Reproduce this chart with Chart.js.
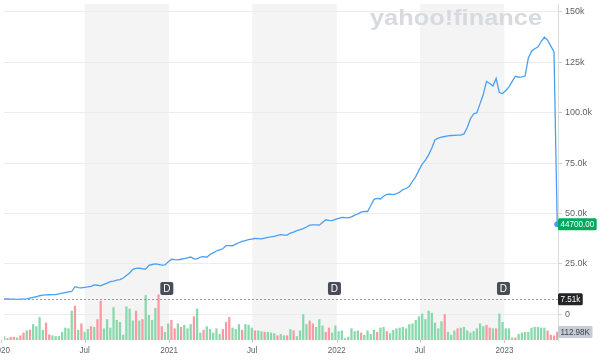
<!DOCTYPE html>
<html>
<head>
<meta charset="utf-8">
<title>Weekly price and volume</title>
<script src="https://cdn.jsdelivr.net/npm/chart.js@4.4.0/dist/chart.umd.min.js"></script>
<style>
  html, body { margin: 0; padding: 0; background: #fff; }
  #wrap { width: 600px; height: 364px; }
</style>
</head>
<body>
<div id="wrap"><canvas id="chart" width="600" height="364"></canvas></div>
<script>
// weekly closes, in thousands
const closes = [
  7.6, 7.6, 7.5, 7.5, 7.4, 7.5, 7.5, 7.6, 8.0, 8.4,
  8.7, 9.2, 9.5, 9.6, 9.7, 9.8, 9.8, 10.1, 10.5, 10.8,
  11.1, 11.3, 13.7, 13.2, 13.1, 13.4, 13.6, 13.9, 14.6, 14.4,
  14.1, 14.8, 15.5, 16.2, 16.5, 16.9, 17.2, 18.0, 19.3, 20.5,
  22.3, 22.8, 22.9, 22.6, 22.4, 24.3, 24.7, 25.0, 24.8, 24.4,
  24.5, 26.0, 27.3, 27.1, 27.0, 27.3, 27.6, 28.0, 28.4, 27.5,
  27.5, 28.4, 28.6, 28.3, 29.7, 30.5, 31.4, 32.0, 32.5, 34.1,
  34.1, 34.0, 34.8, 35.5, 36.2, 36.6, 37.0, 37.3, 37.6, 37.5,
  37.4, 37.8, 38.2, 38.4, 38.7, 39.2, 39.5, 39.3, 39.3, 40.3,
  40.8, 41.5, 42.0, 42.5, 43.3, 44.2, 44.4, 44.4, 44.2, 45.5,
  46.9, 46.6, 46.5, 47.1, 47.6, 48.1, 48.0, 47.8, 48.3, 49.2,
  49.8, 50.7, 51.0, 51.0, 54.0, 57.0, 57.5, 57.2, 58.6, 59.5,
  59.6, 59.4, 59.8, 60.6, 61.9, 62.4, 63.5, 66.0, 68.3, 71.5,
  74.5, 76.5, 79.1, 82.5, 86.6, 87.4, 87.9, 88.2, 88.5, 88.7,
  88.8, 88.9, 88.9, 89.5, 92.5, 97.0, 99.4, 100.0, 104.5, 109.0,
  115.5, 114.5, 113.3, 117.0, 110.0, 109.5, 111.0, 112.8, 115.5, 118.1,
  117.6, 117.8, 118.2, 127.0, 130.5, 131.7, 132.6, 135.3, 137.4, 136.0,
  133.0, 130.3, 44.7
];

// weekly volume, in thousands
const volumes = [
  50, 20, 40, 40, 30, 60, 100, 130, 140, 220,
  190, 320, 140, 240, 75, 60, 50, 50, 110, 170,
  160, 410, 480, 140, 230, 110, 150, 190, 180, 290,
  550, 160, 290, 170, 460, 280, 250, 70, 470, 440,
  270, 410, 270, 290, 630, 350, 280, 450, 640, 190,
  110, 230, 280, 160, 230, 180, 210, 160, 220, 330,
  440, 100, 140, 190, 150, 100, 160, 80, 150, 250,
  320, 170, 150, 220, 140, 220, 210, 170, 130, 130,
  120, 110, 110, 100, 90, 60, 80, 60, 60, 150,
  130, 50, 130, 360, 220, 270, 230, 180, 290, 200,
  110, 170, 100, 200, 120, 130, 20, 40, 160, 120,
  130, 100, 70, 130, 80, 140, 110, 170, 180, 120,
  90, 140, 160, 170, 180, 160, 220, 230, 280, 330,
  370, 290, 410, 380, 240, 160, 260, 360, 110, 70,
  130, 160, 170, 180, 130, 100, 120, 160, 230, 190,
  210, 170, 160, 160, 370, 250, 160, 160, 30, 30,
  80, 100, 110, 110, 170, 180, 180, 170, 170, 130,
  70, 60, 112.98
];

// g = up week, r = down week
const volumeDir = (
  'grrrgrrgrg' + 'gggrrggggg' + 'ggrgrggrgr' + 'rggggggggg' + 'grgrggggrr' +
  'ggrrgrgggr' + 'ggrgggggrr' + 'rgggrgggrg' + 'grgggrggrg' + 'rggggrrggg' +
  'rrgggggggg' + 'grggggrggr' + 'gggggggggg' + 'gggggggrgg' + 'grgggggggg' +
  'rrgrgggggr' + 'gggggggggr' + 'rrr'
).split('');

const firstWeekDay = 7;  // days after 2020-01-01
const priceTicks = [0, 25, 50, 75, 100, 125, 150];
const priceTickLabels = ['0', '25.0k', '50.0k', '75.0k', '100.0k', '125k', '150k'];
const timeTickDays = [0, 182, 366, 547, 731, 912, 1096];
const timeTickLabels = ['2020', 'Jul', '2021', 'Jul', '2022', 'Jul', '2023'];
const dividendDays = [361, 726, 1094];
const prevClose = 7.51;

const FONT = '"Liberation Sans", Arial, sans-serif';
const TEXT = '#5f6368';
const LINE = '#4b9ff2';
const NARROW = 0.85;  // squeeze custom text a little, like the source

const weekDays = closes.map((_, i) => firstWeekDay + 7 * i);
const last = closes.length - 1;

function roundRect(ctx, x, y, w, h, r) {
  ctx.beginPath();
  ctx.moveTo(x + r, y);
  ctx.arcTo(x + w, y, x + w, y + h, r);
  ctx.arcTo(x + w, y + h, x, y + h, r);
  ctx.arcTo(x, y + h, x, y, r);
  ctx.arcTo(x, y, x + w, y, r);
  ctx.closePath();
}

// text squeezed horizontally, anchored at (x, y)
function narrowText(ctx, text, x, y, align) {
  const w = ctx.measureText(text).width * NARROW;
  const left = align === 'center' ? x - w / 2 : x;
  ctx.save();
  ctx.translate(left, y);
  ctx.scale(NARROW, 1);
  ctx.textAlign = 'left';
  ctx.fillText(text, 0, 0);
  ctx.restore();
  return w;
}

const decor = {
  id: 'decor',
  beforeDraw(chart) {
    // grey half-year bands (Jul -> Jan)
    const { ctx, chartArea: a, scales: { x } } = chart;
    ctx.save();
    ctx.fillStyle = '#f4f4f4';
    for (let k = 1; k + 1 < timeTickDays.length; k += 2) {
      const x0 = x.getPixelForValue(timeTickDays[k]);
      const x1 = x.getPixelForValue(timeTickDays[k + 1]);
      ctx.fillRect(x0, a.top, x1 - x0, a.bottom - a.top);
    }
    ctx.restore();
  },
  beforeDatasetsDraw(chart) {
    // watermark
    const { ctx } = chart;
    ctx.save();
    ctx.font = 'bold 22px "Liberation Sans", Arial, sans-serif';
    const w = ctx.measureText('yahoo!finance').width;
    ctx.translate(370, 25);
    ctx.scale(172 / w, 1);
    ctx.fillStyle = '#d7dadf';
    ctx.textBaseline = 'alphabetic';
    ctx.fillText('yahoo!finance', 0, 0);
    ctx.restore();
  },
  afterDatasetsDraw(chart) {
    const { ctx, chartArea: a, scales: { x, y } } = chart;
    const py = Math.round(y.getPixelForValue(prevClose)) + 0.5;
    ctx.save();
    // previous close dotted line
    ctx.strokeStyle = '#9a9a9a';
    ctx.lineWidth = 1;
    ctx.setLineDash([2, 2]);
    ctx.beginPath();
    ctx.moveTo(a.left, py);
    ctx.lineTo(a.right, py);
    ctx.stroke();
    ctx.setLineDash([]);
    // dividend markers
    ctx.font = '10px ' + FONT;
    ctx.textAlign = 'center';
    ctx.textBaseline = 'middle';
    dividendDays.forEach(d => {
      const cx = x.getPixelForValue(d);
      const cy = py - 11;
      ctx.fillStyle = '#474c55';
      roundRect(ctx, cx - 6.5, cy - 6.5, 13, 13, 2);
      ctx.fill();
      ctx.fillStyle = '#fff';
      ctx.fillText('D', cx, cy + 0.5);
    });
    ctx.restore();
  },
  afterDraw(chart) {
    const { ctx, chartArea: a, scales: { x, y, vol } } = chart;
    ctx.save();
    // time axis labels
    ctx.font = '9.5px ' + FONT;
    ctx.textBaseline = 'middle';
    timeTickDays.forEach((d, k) => {
      const px = x.getPixelForValue(d);
      ctx.strokeStyle = '#cccccc';
      ctx.beginPath();
      ctx.moveTo(Math.round(px) + 0.5, a.bottom);
      ctx.lineTo(Math.round(px) + 0.5, a.bottom + 3);
      ctx.stroke();
      ctx.fillStyle = TEXT;
      narrowText(ctx, timeTickLabels[k], px, a.bottom + 10, 'center');
    });
    // value tags on the right
    const tag = (text, cy, bg, fg) => {
      const w = ctx.measureText(text).width * NARROW + 5;
      ctx.fillStyle = bg;
      roundRect(ctx, a.right, cy - 6, w, 12, 1.5);
      ctx.fill();
      ctx.fillStyle = fg;
      narrowText(ctx, text, a.right + 2.5, cy + 0.5, 'left');
    };
    tag(prevClose.toFixed(2) + 'k', y.getPixelForValue(prevClose), '#232526', '#fff');
    tag((closes[last] * 1000).toFixed(2), y.getPixelForValue(closes[last]), '#00a95c', '#fff');
    tag(volumes[last].toFixed(2) + 'K', vol.getPixelForValue(volumes[last]), '#c7cbd3', '#3c4249');
    ctx.restore();
  }
};

new Chart(document.getElementById('chart'), {
  data: {
    datasets: [
      {
        type: 'line',
        data: closes.map((c, i) => ({ x: weekDays[i], y: c })),
        yAxisID: 'y',
        borderColor: LINE,
        borderWidth: 1.3,
        tension: 0,
        clip: false,
        pointRadius: ctx => ctx.dataIndex === last ? 3 : 0,
        pointBackgroundColor: LINE,
        pointBorderWidth: 0,
        order: 1
      },
      {
        type: 'bar',
        data: volumes.map((v, i) => ({ x: weekDays[i], y: v })),
        yAxisID: 'vol',
        backgroundColor: volumeDir.map(c => c === 'g' ? 'rgb(136,216,172)' : 'rgb(252,152,160)'),
        barThickness: 1.6,
        borderWidth: 0,
        order: 2
      }
    ]
  },
  options: {
    responsive: false,
    animation: false,
    events: [],
    layout: { padding: { left: 0, top: 0, right: 0, bottom: 24 } },
    plugins: { legend: { display: false }, tooltip: { enabled: false } },
    scales: {
      x: { type: 'linear', min: 6.5, max: 1212.7, offset: false, display: false },
      y: {
        position: 'right',
        min: -12.75,
        max: 153.92,
        afterBuildTicks: s => { s.ticks = priceTicks.map(v => ({ value: v })); },
        afterFit: s => { s.width = 42; s.paddingTop = 0; s.paddingBottom = 0; },
        ticks: {
          callback: v => priceTickLabels[priceTicks.indexOf(v)],
          color: TEXT,
          padding: 3,
          font: { family: FONT, size: 9 }
        },
        grid: { color: '#ececec', tickLength: 4, tickColor: '#cfcfcf' },
        border: { color: '#dcdcdc' }
      },
      vol: { display: false, min: 0, max: 4760 }
    }
  },
  plugins: [decor]
});
</script>
</body>
</html>
